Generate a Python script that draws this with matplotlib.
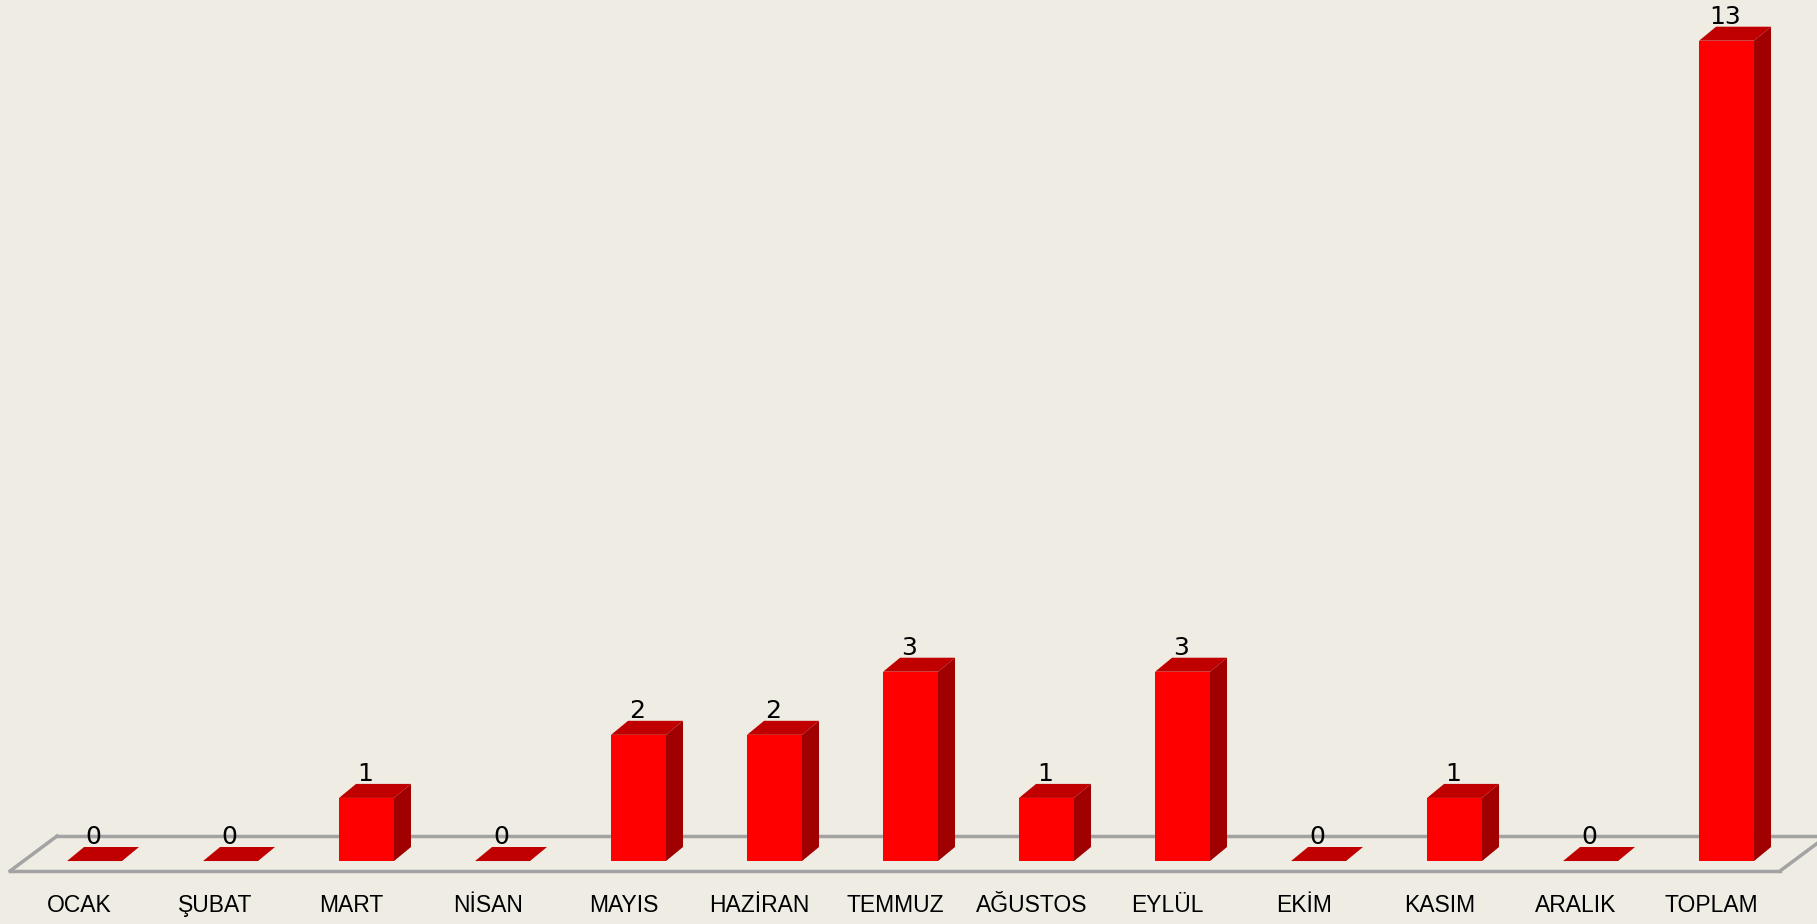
import matplotlib.pyplot as plt
import numpy as np

months = ["OCAK", "ŞUBAT", "MART", "NİSAN", "MAYIS", "HAZİRAN", "TEMMUZ",
          "AĞUSTOS", "EYLÜL", "EKİM", "KASIM", "ARALIK", "TOPLAM"]
counts = [0, 0, 1, 0, 2, 2, 3, 1, 3, 0, 1, 0, 13]

bg = '#efece4'
c_front = '#ff0000'
c_top = '#c00000'
c_side = '#a00000'
c_floor = '#a3a3a3'

bar_w = 0.404
dx, dy = 0.125, 0.222          # depth of the bars
fdx, fdy = 0.346, 0.555        # depth of the floor

fig = plt.figure(figsize=(18.17, 9.24), dpi=100)
fig.patch.set_facecolor(bg)
ax = fig.add_axes([0, 0, 1, 1])
ax.set_facecolor(bg)
ax.set_xlim(-0.695, 12.665)
ax.set_ylim(-0.998, 13.645)
ax.axis('off')

# floor outline
fx0, fx1, fy = -0.621, 12.393, -0.158
ax.plot([fx0 + fdx, fx1 + fdx], [fy + fdy, fy + fdy], color=c_floor, lw=2.5, zorder=1)
ax.plot([fx0, fx1], [fy, fy], color=c_floor, lw=2.5, zorder=1)
ax.plot([fx0, fx0 + fdx], [fy, fy + fdy], color=c_floor, lw=2.5, zorder=1)
ax.plot([fx1, fx1 + fdx], [fy, fy + fdy], color=c_floor, lw=2.5, zorder=1)

x = np.arange(len(months))
ax.bar(x, counts, width=bar_w, color=c_front, linewidth=0, zorder=3)

for i, v in zip(x, counts):
    l, r = i - bar_w / 2, i + bar_w / 2
    # top face
    ax.fill([l, r, r + dx, l + dx], [v, v, v + dy, v + dy],
            color=c_top, linewidth=0, zorder=3)
    # side face
    if v > 0:
        ax.fill([r, r + dx, r + dx, r], [0, dy, v + dy, v],
                color=c_side, linewidth=0, zorder=3)
    ax.text(i - 0.01, v + dy + 0.04, str(v), ha='center', va='baseline',
            fontsize=18, family='DejaVu Sans', color='black', zorder=4)
    ax.text(i - 0.11, -0.697, months[i], ha='center', va='center',
            fontsize=16.5, family='Liberation Sans', color='black')

fig.savefig('out.png', dpi=100, facecolor=bg)
